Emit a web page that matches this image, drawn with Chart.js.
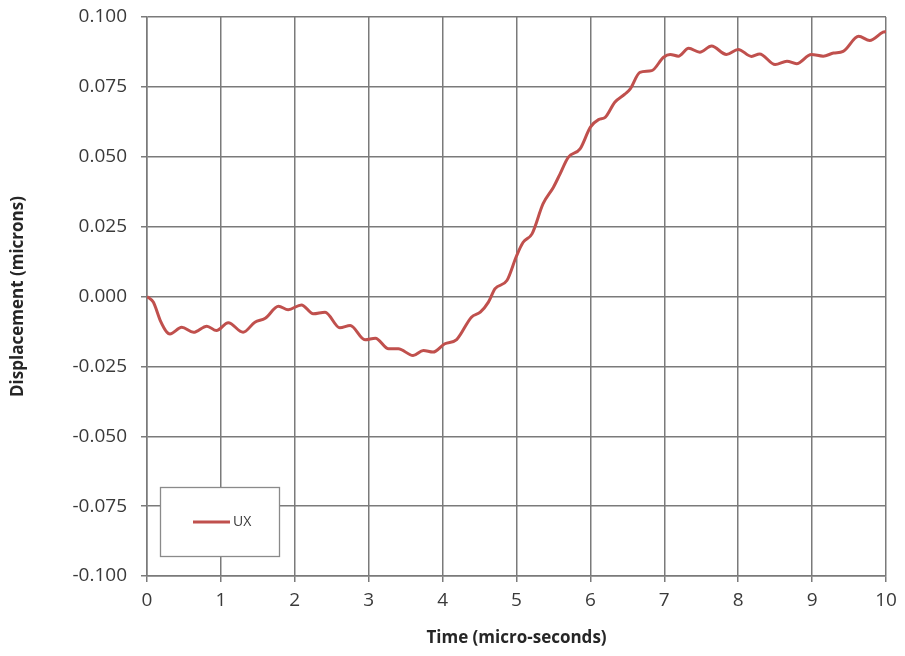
<!DOCTYPE html>
<html>
<head>
<meta charset="utf-8">
<script src="https://cdn.jsdelivr.net/npm/chart.js@4.4.1/dist/chart.umd.min.js"></script>
<style>
    html, body { margin: 0; padding: 0; background: #fff; }
    #wrap { width: 905px; height: 656px; }
</style>
</head>
<body>
<div id="wrap"><canvas id="chart" width="905" height="656"></canvas></div>
<script>
const seriesName = 'UX';
const timeValues = [
    0, 0.085, 0.18, 0.27, 0.31, 0.47, 0.63, 0.81, 0.94, 1.10,
    1.30, 1.46, 1.60, 1.78, 1.91, 2.09, 2.25, 2.41, 2.61, 2.75,
    2.95, 3.09, 3.27, 3.40, 3.60, 3.74, 3.87, 4.03, 4.19, 4.39,
    4.51, 4.62, 4.71, 4.87, 5.00, 5.09, 5.21, 5.36, 5.50, 5.59,
    5.70, 5.86, 6.00, 6.11, 6.20, 6.33, 6.47, 6.54, 6.67, 6.83,
    6.99, 7.08, 7.19, 7.33, 7.48, 7.64, 7.84, 8.00, 8.18, 8.29,
    8.50, 8.66, 8.79, 8.99, 9.15, 9.29, 9.42, 9.63, 9.78, 9.96, 10
];
const uxValues = [
    0, -0.002, -0.0086, -0.0128, -0.0134, -0.011, -0.0128, -0.0106, -0.0122, -0.0094,
    -0.0128, -0.0092, -0.0078, -0.0035, -0.0047, -0.003, -0.0062, -0.0056, -0.0112, -0.0104,
    -0.0155, -0.0149, -0.0187, -0.0187, -0.0211, -0.0193, -0.0199, -0.0169, -0.0154, -0.0074,
    -0.0056, -0.002, 0.0028, 0.0057, 0.0145, 0.0194, 0.0224, 0.0332, 0.0391, 0.0439,
    0.0498, 0.0528, 0.0606, 0.0633, 0.0641, 0.0695, 0.0725, 0.0743, 0.0802, 0.0808,
    0.0856, 0.0866, 0.086, 0.0888, 0.0874, 0.0896, 0.0866, 0.0884, 0.0859, 0.0868,
    0.083, 0.0842, 0.0833, 0.0866, 0.086, 0.0871, 0.0877, 0.0931, 0.0916, 0.0946, 0.0948
];
const xTicks = [0, 1, 2, 3, 4, 5, 6, 7, 8, 9, 10];
const yTicks = [-0.100, -0.075, -0.050, -0.025, 0.000, 0.025, 0.050, 0.075, 0.100];

const lineColor = '#c0504d';
const gridColor = '#7a7a7a';
const textColor = '#3a3a3a';
const fontFamily = '"Open Sans", "Liberation Sans", Arial, sans-serif';

// legend box drawn inside the plot, like the original
const boxLegend = {
    id: 'boxLegend',
    afterDraw(chart) {
        const ctx = chart.ctx;
        const ds = chart.data.datasets[0];
        ctx.save();
        ctx.fillStyle = '#fff';
        ctx.fillRect(160, 487, 119, 69);
        ctx.strokeStyle = '#8a8a8a';
        ctx.lineWidth = 1.3;
        ctx.strokeRect(160.5, 487.5, 119, 69);
        ctx.strokeStyle = ds.borderColor;
        ctx.lineWidth = 3;
        ctx.beginPath();
        ctx.moveTo(193, 522);
        ctx.lineTo(230, 522);
        ctx.stroke();
        ctx.fillStyle = textColor;
        ctx.font = '14px ' + fontFamily;
        ctx.textBaseline = 'middle';
        ctx.fillText(ds.label, 233, 522);
        ctx.restore();
    }
};

const data = {
    datasets: [{
        label: seriesName,
        data: timeValues.map((t, i) => ({ x: t, y: uxValues[i] })),
        borderColor: lineColor,
        borderWidth: 3,
        pointRadius: 0,
        cubicInterpolationMode: 'monotone',
        fill: false,
    }]
};

const config = {
    type: 'line',
    data: data,
    options: {
        responsive: false,
        animation: false,
        layout: {
            padding: { top: 17, right: 19, left: 0, bottom: 0 }
        },
        scales: {
            x: {
                type: 'linear',
                min: 0,
                max: 10,
                afterFit(scale) {
                    scale.height = 80;
                    scale.paddingLeft = 0;
                    scale.paddingRight = 0;
                },
                afterBuildTicks(scale) { scale.ticks = xTicks.map(v => ({ value: v })); },
                ticks: {
                    color: textColor,
                    font: { size: 19, family: fontFamily },
                    padding: 7,
                    maxRotation: 0,
                },
                grid: { color: gridColor, lineWidth: 1.5, tickLength: 6 },
                border: { color: gridColor, width: 1.5 },
                title: {
                    display: true,
                    text: 'Time (micro-seconds)',
                    color: '#262626',
                    font: { size: 17, weight: 'bold', family: fontFamily },
                    padding: { top: 8, bottom: 8 },
                }
            },
            y: {
                type: 'linear',
                min: -0.1,
                max: 0.1,
                afterFit(scale) {
                    scale.width = 147;
                    scale.paddingTop = 0;
                    scale.paddingBottom = 0;
                },
                afterBuildTicks(scale) { scale.ticks = yTicks.map(v => ({ value: v })); },
                ticks: {
                    color: textColor,
                    font: { size: 19, family: fontFamily },
                    padding: 14,
                    callback: (v) => Number(v).toFixed(3),
                },
                grid: { color: gridColor, lineWidth: 1.5, tickLength: 6 },
                border: { color: gridColor, width: 1.5 },
                title: {
                    display: true,
                    text: 'Displacement (microns)',
                    color: '#262626',
                    font: { size: 17, weight: 'bold', family: fontFamily },
                    padding: { top: 8, bottom: 0 },
                }
            }
        },
        plugins: {
            legend: { display: false },
            tooltip: { enabled: false }
        }
    },
    plugins: [boxLegend]
};

const ctx = document.getElementById('chart').getContext('2d');
const chart = new Chart(ctx, config);
</script>
</body>
</html>
